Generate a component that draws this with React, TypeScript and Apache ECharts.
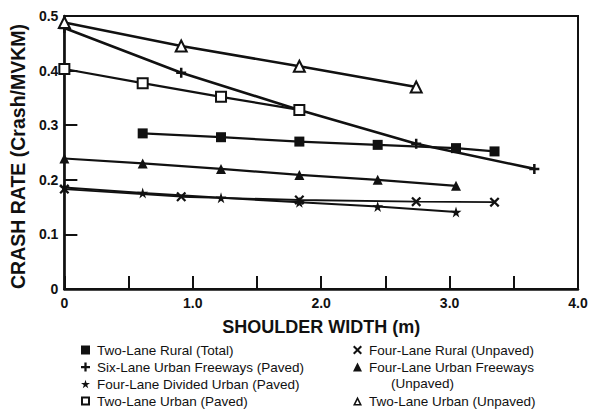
import React, { useEffect, useRef } from "react";
import * as echarts from "echarts";

// ---- Data (shoulder width in m, crash rate in crash/MVKM) ----
const seriesNames = [
  "Two-Lane Rural (Total)",
  "Six-Lane Urban Freeways (Paved)",
  "Four-Lane Divided Urban (Paved)",
  "Two-Lane Urban (Paved)",
  "Four-Lane Rural (Unpaved)",
  "Four-Lane Urban Freeways (Unpaved)",
  "Two-Lane Urban (Unpaved)",
];

const twoLaneRuralX = [0.61, 1.22, 1.83, 2.44, 3.05, 3.35];
const twoLaneRuralY = [0.285, 0.278, 0.27, 0.264, 0.258, 0.252];

const sixLaneFwyX = [0, 0.91, 1.83, 2.74, 3.66];
const sixLaneFwyY = [0.478, 0.396, 0.328, 0.266, 0.22];

const fourLaneDividedX = [0, 0.61, 1.22, 1.83, 2.44, 3.05];
const fourLaneDividedY = [0.186, 0.176, 0.167, 0.159, 0.151, 0.141];

const twoLaneUrbanPavedX = [0, 0.61, 1.22, 1.83];
const twoLaneUrbanPavedY = [0.403, 0.377, 0.352, 0.328];

const fourLaneRuralX = [0, 0.91, 1.83, 2.74, 3.35];
const fourLaneRuralY = [0.183, 0.169, 0.163, 0.16, 0.159];

const fourLaneFwyUnpavedX = [0, 0.61, 1.22, 1.83, 2.44, 3.05];
const fourLaneFwyUnpavedY = [0.239, 0.23, 0.22, 0.209, 0.2, 0.189];

const twoLaneUrbanUnpavedX = [0, 0.91, 1.83, 2.74];
const twoLaneUrbanUnpavedY = [0.488, 0.445, 0.408, 0.37];

const xTickLabels = ["0", "1.0", "2.0", "3.0", "4.0"];
const yTickLabels = ["0", "0.1", "0.2", "0.3", "0.4", "0.5"];

// ---- Symbols ----
const PLUS = "path://M3,0H5V3H8V5H5V8H3V5H0V3H3Z";
const STAR =
  "path://M50,0 L61,35 L98,35 L68,57 L79,91 L50,70 L21,91 L32,57 L2,35 L39,35Z";
const CROSS =
  "path://M0,1.6 L1.6,0 L5,3.4 L8.4,0 L10,1.6 L6.6,5 L10,8.4 L8.4,10 L5,6.6 L1.6,10 L0,8.4 L3.4,5Z";
const HOLLOW_SQUARE = "path://M0,0H10V10H0Z M2.2,2.2V7.8H7.8V2.2Z";
const HOLLOW_TRIANGLE = "path://M5,0L10,10L0,10Z M5,4L2.8,8.3L7.2,8.3Z";

const zip = (xs: number[], ys: number[]) => xs.map((x, i) => [x, ys[i]]);

const INK = "#111";
const FONT = "'Liberation Sans', Arial, Helvetica, sans-serif";

export default function App() {
  const ref = useRef<HTMLDivElement>(null);

  useEffect(() => {
    document.body.style.margin = "0";
    if (!ref.current) return;
    const chart = echarts.init(ref.current, undefined, { renderer: "svg" });

    const mk = (
      name: string,
      xs: number[],
      ys: number[],
      symbol: string,
      size: number,
      width: number,
      empty = false
    ) => ({
      name,
      type: "line",
      data: zip(xs, ys),
      symbol,
      symbolSize: size,
      showSymbol: true,
      lineStyle: { color: INK, width },
      itemStyle: empty
        ? { color: INK, borderColor: INK, borderWidth: 2 }
        : { color: INK, borderColor: INK, borderWidth: 0 },
      emphasis: { disabled: true },
      z: 3,
    });

    const legendText = {
      fontSize: 13.5,
      fontFamily: FONT,
      color: INK,
      lineHeight: 17,
      padding: [0, 0, 0, 2],
    };

    const legendBase = {
      orient: "vertical",
      itemWidth: 9,
      itemHeight: 9,
      itemGap: 0,
      padding: 0,
      selectedMode: false,
      textStyle: legendText,
      itemStyle: { color: INK, borderWidth: 0 },
    };

    const option: any = {
      animation: false,
      backgroundColor: "#fff",
      grid: {
        left: 63,
        right: 18,
        top: 16,
        bottom: 122,
        show: true,
        borderColor: INK,
        borderWidth: 2,
        backgroundColor: "transparent",
      },
      xAxis: {
        type: "value",
        min: 0,
        max: 4,
        interval: 0.5,
        name: "SHOULDER WIDTH (m)",
        nameLocation: "middle",
        nameGap: 29,
        nameTextStyle: {
          fontSize: 18,
          fontWeight: "bold",
          fontFamily: FONT,
          color: INK,
        },
        axisLine: { show: true, lineStyle: { color: INK, width: 2.5 } },
        axisTick: {
          show: true,
          inside: true,
          length: 13,
          lineStyle: { color: INK, width: 2 },
        },
        axisLabel: {
          margin: 7,
          fontSize: 14,
          fontWeight: "bold",
          fontFamily: FONT,
          color: INK,
          showMaxLabel: true,
          formatter: (v: number) =>
            Number.isInteger(v) ? xTickLabels[v] : "",
        },
        splitLine: { show: false },
      },
      yAxis: {
        type: "value",
        min: 0,
        max: 0.5,
        interval: 0.1,
        name: "CRASH RATE (Crash/MVKM)",
        nameLocation: "middle",
        nameGap: 33,
        nameTextStyle: {
          fontSize: 19.5,
          fontWeight: "bold",
          fontFamily: FONT,
          color: INK,
          padding: [0, 8, 0, 0],
        },
        axisLine: { show: true, lineStyle: { color: INK, width: 2.5 } },
        axisTick: {
          show: true,
          inside: true,
          length: 13,
          lineStyle: { color: INK, width: 2 },
        },
        axisLabel: {
          margin: 6,
          fontSize: 14,
          fontWeight: "bold",
          fontFamily: FONT,
          color: INK,
          formatter: (v: number) => yTickLabels[Math.round(v * 10)],
        },
        splitLine: { show: false },
      },
      legend: [
        {
          ...legendBase,
          left: 81,
          top: 341.5,
          data: [
            { name: seriesNames[0], icon: "rect" },
            { name: seriesNames[1], icon: PLUS },
            { name: seriesNames[2], icon: STAR },
            { name: seriesNames[3], icon: HOLLOW_SQUARE },
          ],
        },
        {
          ...legendBase,
          left: 353,
          top: 341.5,
          formatter: (n: string) =>
            n === seriesNames[5] ? "Four-Lane Urban Freeways" : n,
          data: [
            { name: seriesNames[4], icon: CROSS },
            { name: seriesNames[5], icon: "triangle" },
          ],
        },
        {
          ...legendBase,
          left: 353,
          top: 392.5,
          data: [{ name: seriesNames[6], icon: HOLLOW_TRIANGLE }],
        },
      ],
      graphic: [
        {
          type: "text",
          left: 391,
          top: 376,
          style: {
            text: "(Unpaved)",
            fontSize: 13.5,
            fontFamily: FONT,
            fill: INK,
          },
        },
      ],
      series: [
        mk(seriesNames[0], twoLaneRuralX, twoLaneRuralY, "rect", 10, 2.2),
        mk(seriesNames[1], sixLaneFwyX, sixLaneFwyY, PLUS, 10, 2.6),
        mk(seriesNames[2], fourLaneDividedX, fourLaneDividedY, STAR, 11, 2),
        mk(
          seriesNames[3],
          twoLaneUrbanPavedX,
          twoLaneUrbanPavedY,
          "emptyRect",
          10,
          2.2,
          true
        ),
        mk(seriesNames[4], fourLaneRuralX, fourLaneRuralY, CROSS, 10, 1.8),
        mk(
          seriesNames[5],
          fourLaneFwyUnpavedX,
          fourLaneFwyUnpavedY,
          "triangle",
          10,
          2.2
        ),
        mk(
          seriesNames[6],
          twoLaneUrbanUnpavedX,
          twoLaneUrbanUnpavedY,
          "emptyTriangle",
          11,
          2.6,
          true
        ),
      ],
    };

    chart.setOption(option);
    return () => chart.dispose();
  }, []);

  return (
    <div
      ref={ref}
      style={{ position: "absolute", left: 0, top: 0, width: 596, height: 411 }}
    />
  );
}
